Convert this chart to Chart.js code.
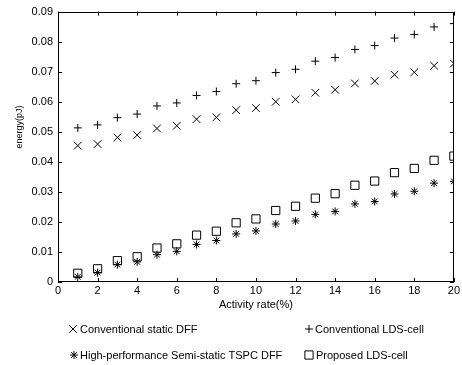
<html>
<head>
<style>
  body { margin: 0; background: #fff; }
  #wrap { width: 462px; height: 365px; }
</style>
</head>
<body>
<div id="wrap"><canvas id="myChart" width="462" height="365"></canvas></div>
<script src="https://cdn.jsdelivr.net/npm/chart.js@4/dist/chart.umd.min.js"></script>
<script>
// activity rate (%)
var rates = [1,2,3,4,5,6,7,8,9,10,11,12,13,14,15,16,17,18,19,20];
// energy (pJ)
var staticDff = [0.0454,0.0459,0.0481,0.0489,0.0511,0.0520,0.0542,0.0548,0.0572,0.0579,
                 0.0600,0.0608,0.0630,0.0640,0.0661,0.0669,0.0690,0.0698,0.0720,0.0727];
var ldsCell   = [0.0513,0.0523,0.0547,0.0559,0.0586,0.0596,0.0621,0.0634,0.0660,0.0670,
                 0.0697,0.0708,0.0735,0.0747,0.0774,0.0787,0.0812,0.0824,0.0849,0.0860];
var tspcDff   = [0.0017,0.0031,0.0058,0.0067,0.0091,0.0102,0.0125,0.0138,0.0160,0.0170,
                 0.0193,0.0203,0.0225,0.0235,0.0260,0.0268,0.0293,0.0302,0.0329,0.0335];
var proposed  = [0.0029,0.0044,0.0071,0.0084,0.0113,0.0127,0.0156,0.0169,0.0197,0.0210,
                 0.0238,0.0252,0.0279,0.0294,0.0322,0.0336,0.0364,0.0378,0.0405,0.0419];
var seriesNames = ['Conventional static DFF','Conventional LDS-cell',
                   'High-performance Semi-static TSPC DFF','Proposed LDS-cell'];
var xTitle = 'Activity rate(%)';
var yTitle = 'energy(pJ)';

var FONT = "'Liberation Sans', Arial, sans-serif";

function pts(arr) {
  return arr.map(function(v, i) { return {x: rates[i], y: v}; });
}
function ds(label, arr, style, r) {
  return {
    label: label, data: pts(arr), showLine: false,
    pointStyle: style, pointRadius: r, pointHoverRadius: r,
    borderColor: '#000', backgroundColor: 'rgba(0,0,0,0)', pointBorderWidth: 1
  };
}

// box, inward ticks, y title and the 2x2 legend
var extras = {
  id: 'extras',
  afterDraw: function(chart) {
    var ctx = chart.ctx, a = chart.chartArea;
    var xs = chart.scales.x, ys = chart.scales.y;
    ctx.save();
    ctx.strokeStyle = '#000';
    ctx.lineWidth = 1;
    ctx.strokeRect(Math.round(a.left) + 0.5, Math.round(a.top) + 0.5,
                   Math.round(a.right - a.left) - 1, Math.round(a.bottom - a.top) - 1);
    var tl = 4;
    ctx.beginPath();
    xs.ticks.forEach(function(t) {
      var px = Math.round(xs.getPixelForValue(t.value)) + 0.5;
      ctx.moveTo(px, a.bottom); ctx.lineTo(px, a.bottom - tl);
      ctx.moveTo(px, a.top); ctx.lineTo(px, a.top + tl);
    });
    ys.ticks.forEach(function(t) {
      var py = Math.round(ys.getPixelForValue(t.value)) + 0.5;
      ctx.moveTo(a.left, py); ctx.lineTo(a.left + tl, py);
      ctx.moveTo(a.right, py); ctx.lineTo(a.right - tl, py);
    });
    ctx.stroke();

    // y title
    ctx.fillStyle = '#000';
    ctx.font = '9px ' + FONT;
    ctx.textAlign = 'center';
    ctx.textBaseline = 'middle';
    ctx.translate(20, 127);
    ctx.rotate(-Math.PI / 2);
    ctx.fillText(yTitle, 0, 0);
    ctx.restore();

    // legend
    ctx.save();
    ctx.font = '11px ' + FONT;
    ctx.textAlign = 'left';
    ctx.textBaseline = 'middle';
    var items = [
      {i: 0, mx: 73, tx: 80, y: 329},
      {i: 1, mx: 309, tx: 315, y: 329},
      {i: 2, mx: 74, tx: 80, y: 355},
      {i: 3, mx: 309, tx: 316, y: 355}
    ];
    items.forEach(function(it) {
      var d = chart.data.datasets[it.i];
      ctx.strokeStyle = '#000';
      ctx.fillStyle = 'rgba(0,0,0,0)';
      Chart.helpers.drawPoint(ctx, {pointStyle: d.pointStyle, radius: d.pointRadius, borderWidth: 1, rotation: 0},
                              it.mx, it.y);
      ctx.fillStyle = '#000';
      ctx.fillText(seriesNames[it.i], it.tx, it.y + 0.5);
    });
    ctx.restore();
  }
};

new Chart(document.getElementById('myChart'), {
  type: 'scatter',
  data: {
    datasets: [
      ds(seriesNames[0], staticDff, 'crossRot', 5.4),
      ds(seriesNames[1], ldsCell, 'cross', 4),
      ds(seriesNames[2], tspcDff, 'star', 4),
      ds(seriesNames[3], proposed, 'rect', 5.8)
    ]
  },
  options: {
    responsive: false,
    animation: false,
    layout: { padding: { left: 0, right: 8, top: 11, bottom: 51 } },
    plugins: { legend: { display: false }, tooltip: { enabled: false } },
    scales: {
      x: {
        type: 'linear', min: 0, max: 20,
        grid: { display: false, drawTicks: false },
        border: { display: false },
        ticks: { stepSize: 2, padding: 2, color: '#000', font: { family: FONT, size: 11 } },
        title: { display: true, text: xTitle, color: '#000', font: { family: FONT, size: 11 },
                 padding: { top: 0, bottom: 2 } },
        afterFit: function(s) { s.height = 32; }
      },
      y: {
        min: 0, max: 0.09,
        grid: { display: false, drawTicks: false },
        border: { display: false },
        ticks: {
          stepSize: 0.01, padding: 5, color: '#000', font: { family: FONT, size: 11 },
          callback: function(v) { return Math.abs(v) < 1e-9 ? '0' : v.toFixed(2); }
        },
        afterFit: function(s) { s.width = 58; }
      }
    }
  },
  plugins: [extras]
});
</script>
</body>
</html>
